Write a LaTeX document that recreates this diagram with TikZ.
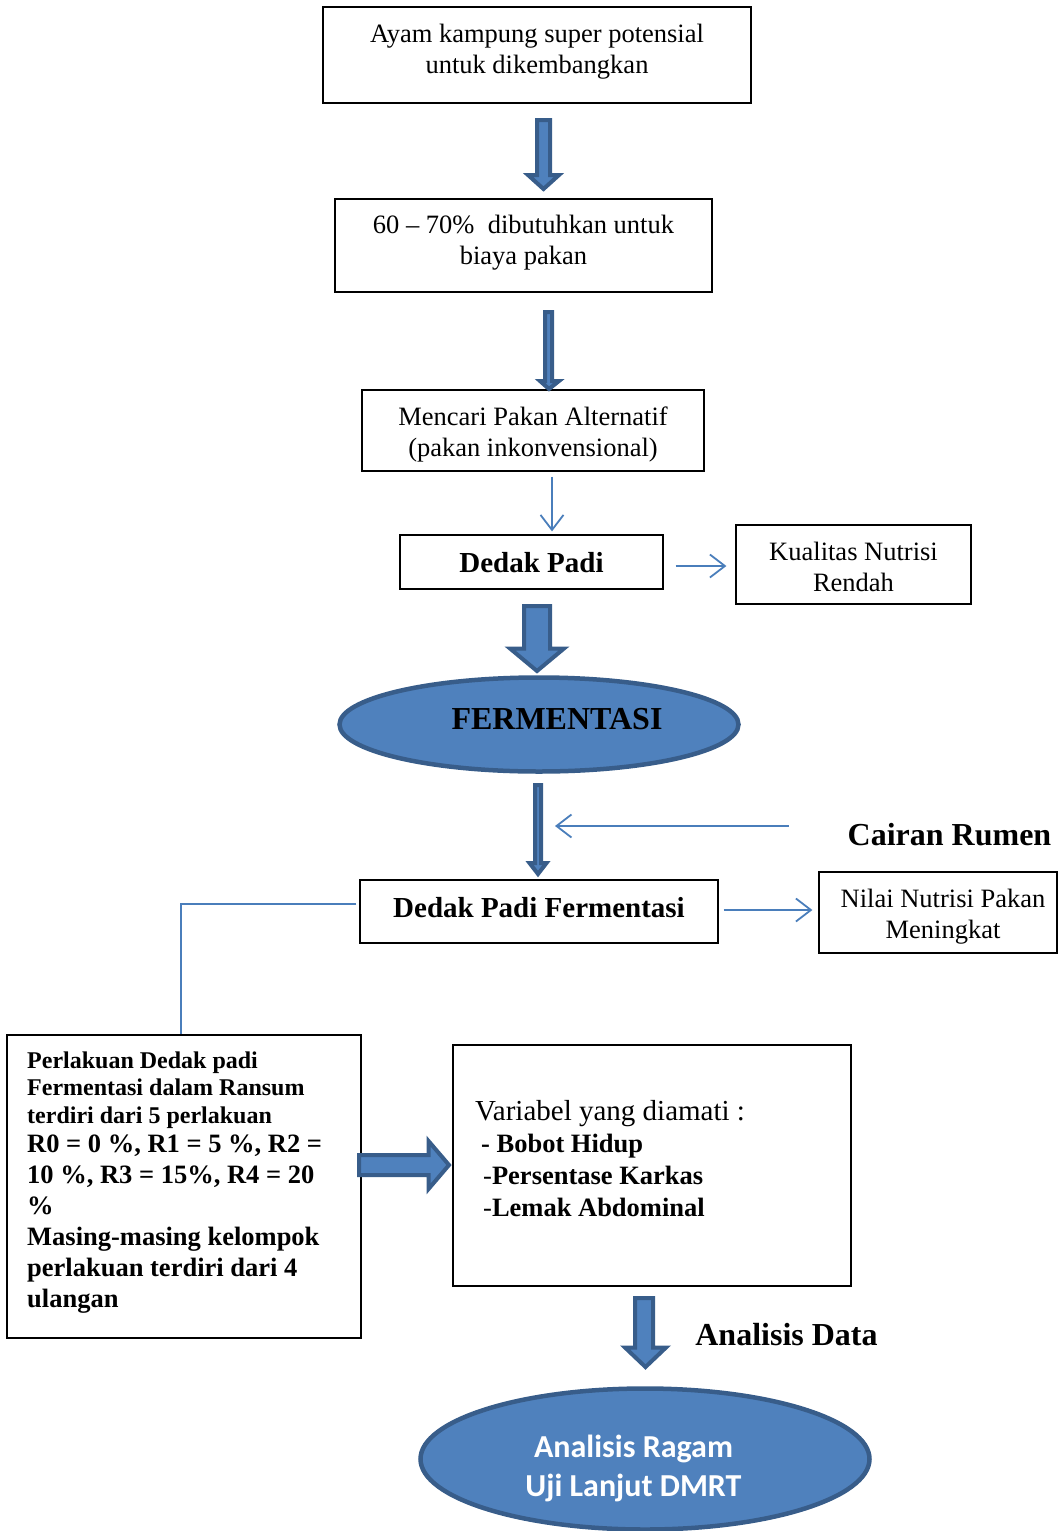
\documentclass[tikz,border=0pt]{standalone}
\usepackage{fontspec}
\setmainfont{Liberation Serif}
\newfontfamily\calibri{Carlito}
\usetikzlibrary{arrows.meta,shapes.geometric}
\definecolor{bfill}{HTML}{4F81BD}
\definecolor{bdraw}{HTML}{385D8A}
\definecolor{thinblue}{HTML}{4A7EBB}
\begin{document}
\begin{tikzpicture}[x=1pt,y=-1pt,
  box/.style={draw=black, line width=1.2pt, inner sep=0pt},
  txt/.style={font=\fontsize{26.5}{31}\selectfont, align=center, inner sep=0pt},
  btxt/.style={font=\fontsize{29}{33}\selectfont\bfseries, inner sep=0pt, anchor=base},
  bigb/.style={font=\fontsize{32}{37}\selectfont\bfseries, inner sep=0pt, anchor=base},
  blk/.style={fill=bfill, draw=bdraw, line width=4pt, line join=miter},
  oval/.style={ellipse, fill=bfill, draw=bdraw, line width=4.5pt, inner sep=0pt},
  thinarrow/.style={draw=thinblue, line width=1.8pt, -{Straight Barb[length=15pt,width=23pt]}},
  thinline/.style={draw=thinblue, line width=1.5pt}
]
\useasboundingbox (0,0) rectangle (1058,1531);

% boxes
\node[box, minimum width=428pt, minimum height=96pt] (b1) at (537,55) {};
\node[box, minimum width=377pt, minimum height=93pt] (b2) at (523.5,245.5) {};
\node[box, minimum width=342pt, minimum height=81pt] (b3) at (533,430.5) {};
\node[box, minimum width=263pt, minimum height=54pt] (b4) at (531.5,562) {};
\node[box, minimum width=235pt, minimum height=79pt] (bK) at (853.5,564.5) {};
\node[box, minimum width=358pt, minimum height=63pt] (bD) at (539,911.5) {};
\node[box, minimum width=238pt, minimum height=81pt] (bN) at (938,912.5) {};
\node[box, minimum width=354pt, minimum height=303pt] (bP) at (184,1186.5) {};
\node[box, minimum width=398pt, minimum height=241pt] (bV) at (652,1165.5) {};

% ellipses
\node[oval, minimum width=399pt, minimum height=94pt] (e1) at (539,724.5) {};
\node[oval, minimum width=449pt, minimum height=141pt] (e2) at (645,1459) {};

% texts
\node[txt] (t1) at (537,52) {Ayam kampung super potensial\\untuk dikembangkan};
\node[txt] (t2) at (523.5,242.5) {60 -- 70\%\ \ dibutuhkan untuk\\biaya pakan};
\node[txt] (t3) at (533,434.5) {Mencari Pakan Alternatif\\(pakan inkonvensional)};
\node[btxt] (t4) at (531.5,572) {Dedak Padi};
\node[txt] (tK) at (853.5,567) {Kualitas Nutrisi\\Rendah};
\node[bigb] (tF) at (557,729) {FERMENTASI};
\node[bigb] (tC) at (949.5,845) {Cairan Rumen};
\node[btxt] (tD) at (539,917) {Dedak Padi Fermentasi};
\node[txt] (tN) at (943,916.5) {Nilai Nutrisi Pakan\\Meningkat};
\node[anchor=north west, inner sep=0pt, text width=335pt, align=left, font=\bfseries] (tP) at (27,1051.5)
  {\spaceskip=0pt \xspaceskip=0pt
   \fontsize{24}{27.5}\selectfont Perlakuan Dedak padi\\Fermentasi dalam Ransum\\terdiri dari 5 perlakuan\par
   \vspace{-1.5pt}\fontsize{26.5}{31}\selectfont R0 = 0 \%, R1 = 5 \%, R2 =\\10 \%, R3 = 15\%, R4 = 20\\\%\\Masing-masing kelompok\\perlakuan terdiri dari 4\\ulangan\par};
\node[anchor=north west, inner sep=0pt, text width=370pt, align=left] (tV) at (475,1100)
  {\spaceskip=0pt \xspaceskip=0pt
   \fontsize{29}{32}\selectfont Variabel yang diamati :\par
   \fontsize{26.5}{32}\selectfont
   \hspace*{6pt}\textbf{- Bobot Hidup}\\
   \hspace*{8pt}-\textbf{Persentase Karkas}\\
   \hspace*{8pt}-\textbf{Lemak Abdominal}\par};
\node[bigb] (tA) at (786.5,1345) {Analisis Data};
\node[align=center, inner sep=0pt, text=white, font=\calibri\bfseries\fontsize{32}{39}\selectfont] (tE) at (633.5,1468) {Analisis Ragam\\Uji Lanjut DMRT};

% block arrows
\draw[blk] (537,120) -- (550,120) -- (550,175) -- (559,175) -- (543.5,189) -- (528,175) -- (537,175) -- cycle;
\draw[blk] (545,312) -- (552,312) -- (552,381) -- (559,381) -- (549,389) -- (540,381) -- (545,381) -- cycle;
\draw[blk] (524,606) -- (550,606) -- (550,648.5) -- (564,648.5) -- (537,671) -- (510,648.5) -- (524,648.5) -- cycle;
\draw[blk] (535,785) -- (541,785) -- (541,863) -- (546.5,863) -- (538,874) -- (529.5,863) -- (535,863) -- cycle;
\draw[blk] (635,1298) -- (653,1298) -- (653,1347.5) -- (666,1347.5) -- (645.5,1367) -- (625,1347.5) -- (635,1347.5) -- cycle;
\draw[blk] (359,1155) -- (428.5,1155) -- (428.5,1141) -- (449,1165) -- (428.5,1189) -- (428.5,1175) -- (359,1175) -- cycle;

% thin connectors
\coordinate (cr) at (555,826);
\draw[thinarrow] ([xshift=19pt,yshift=-5pt]b3.south) -- ([xshift=20.5pt,yshift=3pt]b4.north);
\draw[thinarrow] ([xshift=12pt,yshift=-4pt]b4.east) -- ([xshift=-9pt,yshift=-1.5pt]bK.west);
\draw[thinarrow] ([xshift=-59pt,yshift=19pt]tC.base west) -- (cr);
\draw[thinarrow] ([xshift=5pt,yshift=1.5pt]bD.east) -- ([xshift=-6pt,yshift=2.5pt]bN.west);
\draw[thinline] ([xshift=-3pt,yshift=7.5pt]bD.west) -| ([xshift=-3pt]bP.north);
\end{tikzpicture}
\end{document}
